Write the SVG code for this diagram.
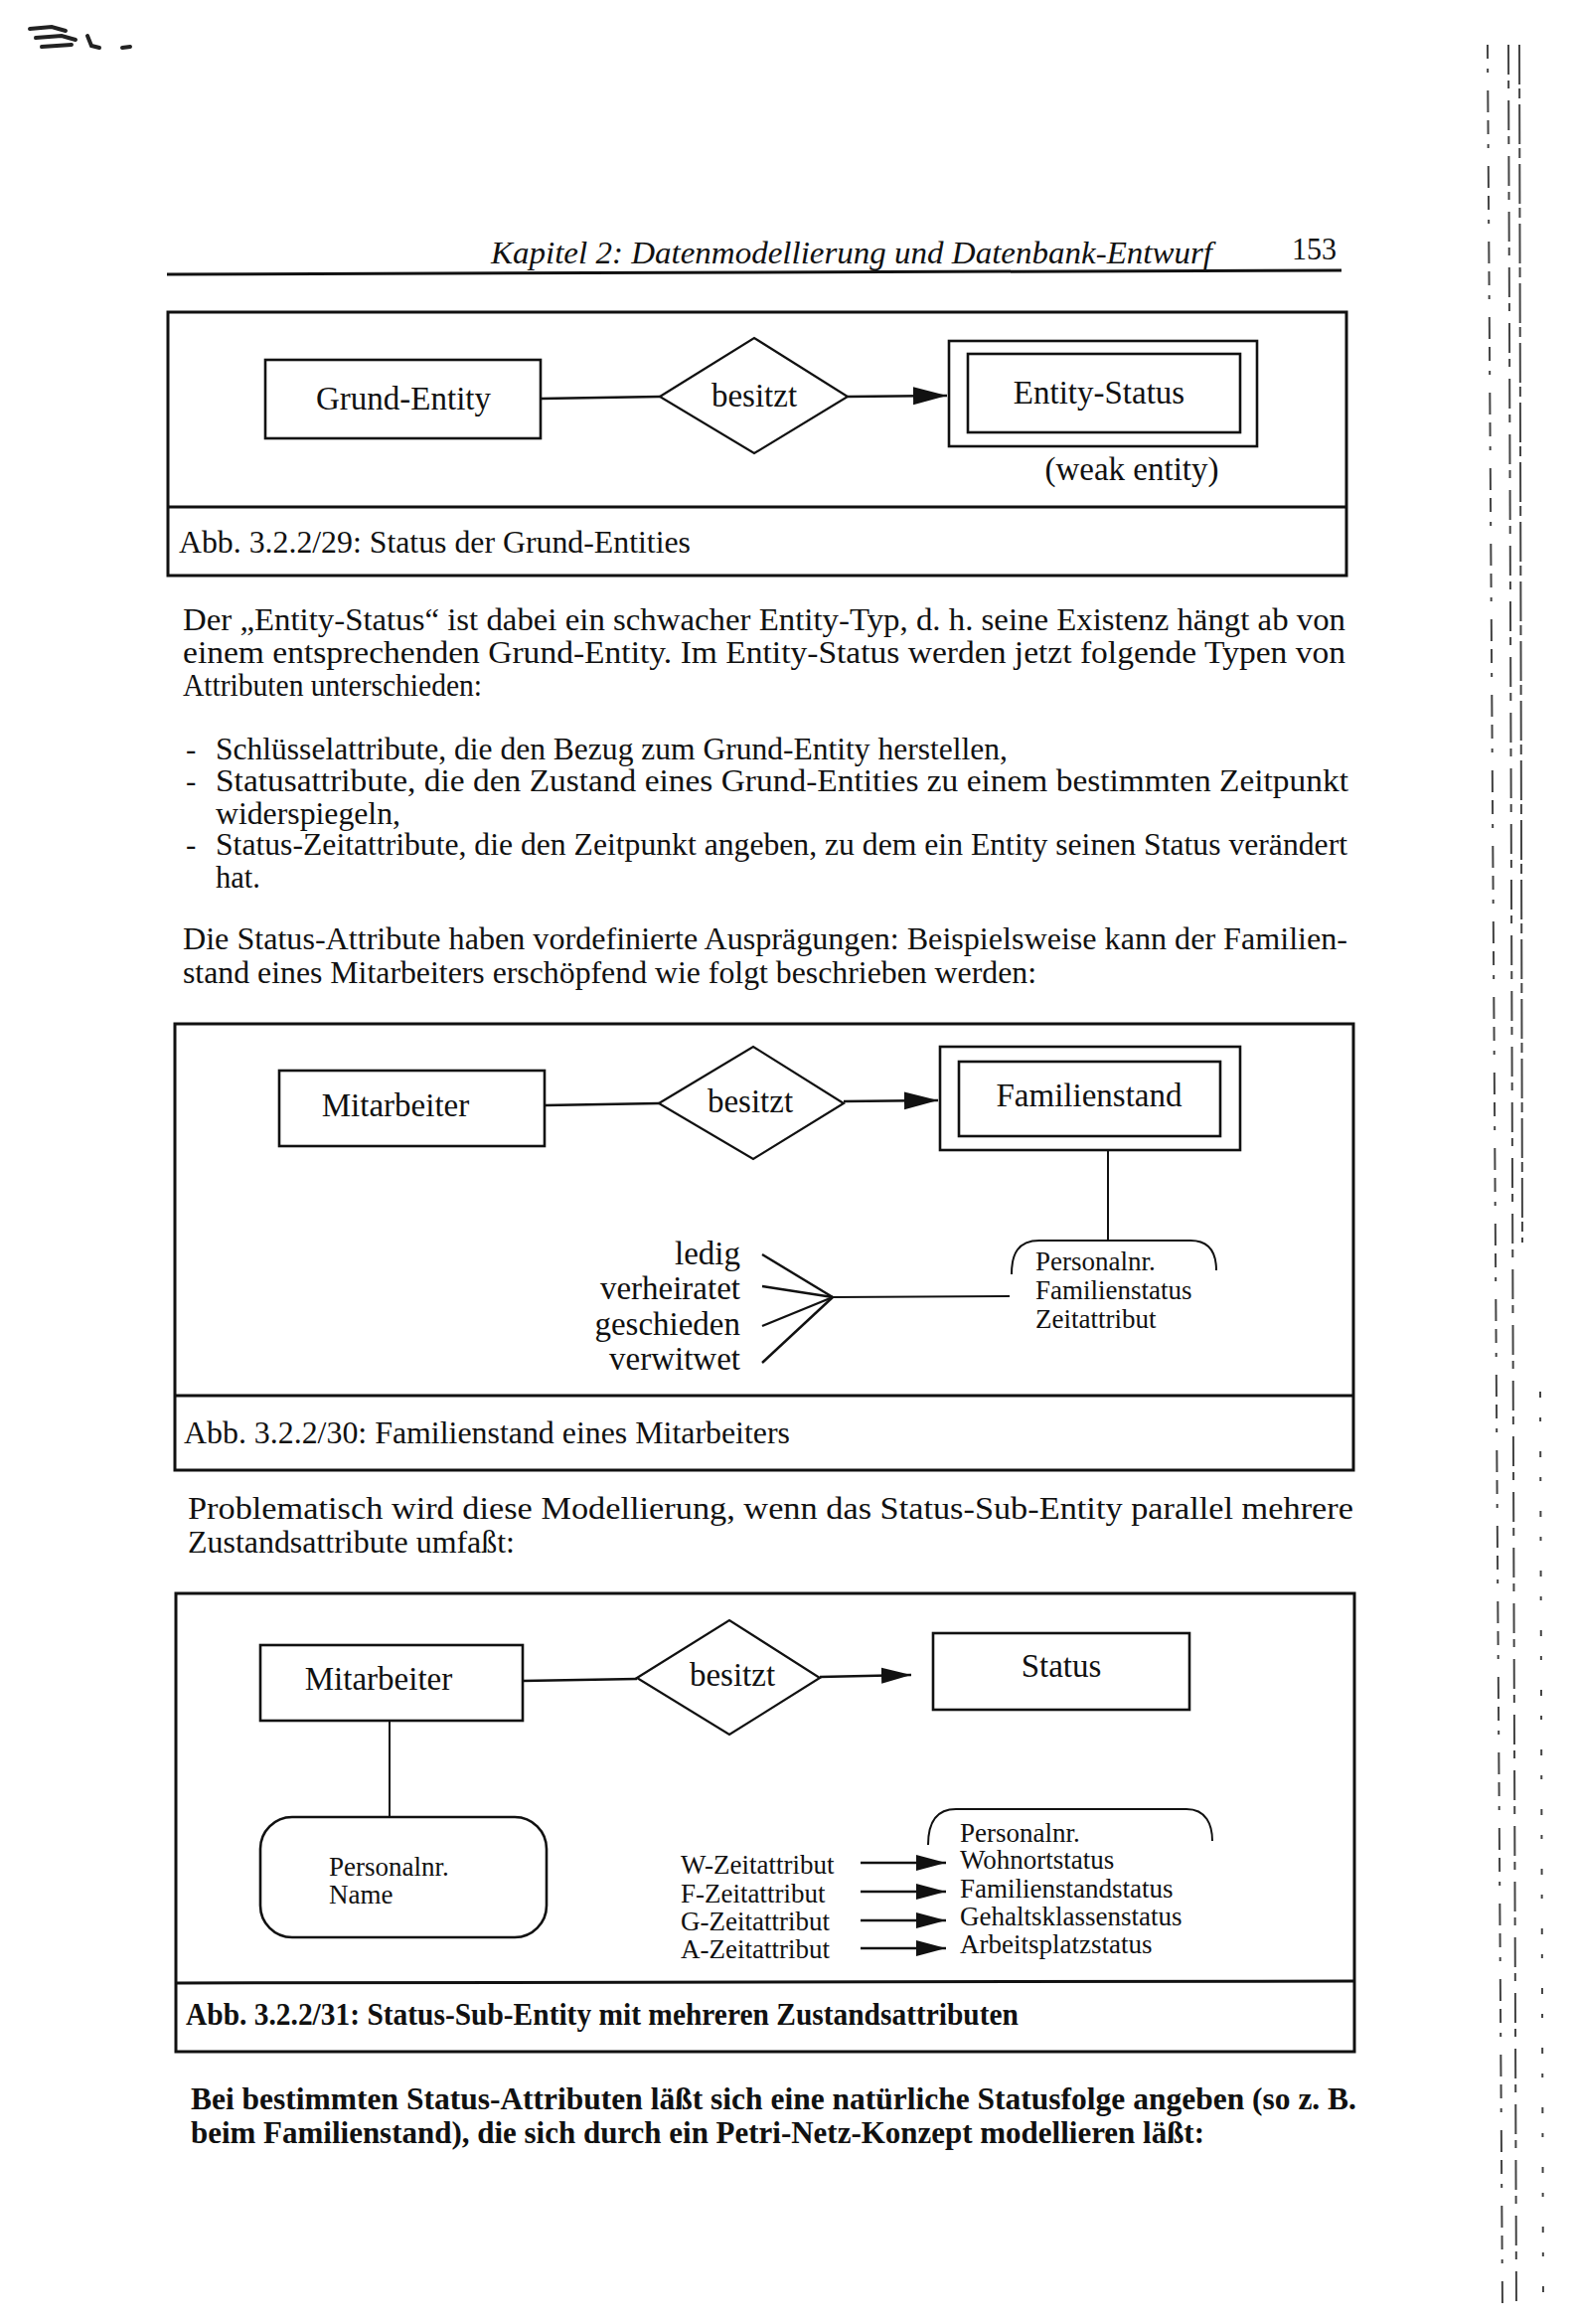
<svg xmlns="http://www.w3.org/2000/svg" width="1587" height="2338" viewBox="0 0 1587 2338">
<defs>
<style>
text{font-family:"Liberation Serif","Times New Roman",serif;fill:#111}
.body{font-size:31px}
.bold{font-weight:bold}
.node{font-size:33px}
.attr{font-size:27px}
.cap{font-size:31px}
.frame{fill:none;stroke:#111;stroke-width:3}
.box{fill:#fff;stroke:#111;stroke-width:2.6}
.dia{fill:#fff;stroke:#111;stroke-width:2.2}
.ln{fill:none;stroke:#111;stroke-width:2.4}
.thin{fill:none;stroke:#111;stroke-width:2}
.noise{fill:none;stroke:#444;stroke-width:2}
.smudge{fill:none;stroke:#222;stroke-width:4;stroke-linecap:round}
</style>
<marker id="ah" markerUnits="userSpaceOnUse" markerWidth="34" markerHeight="20" refX="34" refY="10" orient="auto">
<path d="M0,1 L34,10 L0,19 z" fill="#111"/>
</marker>
<marker id="ahs" markerUnits="userSpaceOnUse" markerWidth="30" markerHeight="18" refX="30" refY="9" orient="auto">
<path d="M0,1 L30,9 L0,17 z" fill="#111"/>
</marker>
</defs>
<rect width="1587" height="2338" fill="#fff"/>

<!-- scan artifacts -->
<g id="artifacts">
<path class="smudge" d="M30,29 L52,27 L66,31 M36,38 L62,36 L76,40 M42,47 L72,45"/>
<path class="smudge" d="M88,36 L92,46 L100,48"/>
<path class="smudge" d="M123,48 L131,47"/>
<path class="noise" d="M1497,45 L1512,2320" stroke-dasharray="14 10 4 18 22 8"/>
<path class="noise" d="M1518,45 L1526,2320" stroke-dasharray="30 6 8 12"/>
<path class="noise" d="M1529,45 L1532,1250" stroke-dasharray="40 4 10 6"/>
<path class="noise" d="M1550,1400 L1553,2320" stroke-dasharray="6 20 4 30"/>
</g>

<!-- header -->
<g id="header">
<text x="494" y="265" font-size="31" font-style="italic" textLength="726" lengthAdjust="spacingAndGlyphs">Kapitel 2: Datenmodellierung und Datenbank-Entwurf</text>
<text x="1300" y="261" font-size="31" textLength="45" lengthAdjust="spacingAndGlyphs">153</text>
<path d="M168,276 L1350,272" stroke="#111" stroke-width="3"/>
</g>

<!-- Figure 1 -->
<g id="fig1">
<rect class="frame" x="169" y="314" width="1186" height="265"/>
<path class="frame" d="M169,510 L1355,510"/>
<text class="cap" x="180" y="556" textLength="515" lengthAdjust="spacingAndGlyphs">Abb. 3.2.2/29:  Status der Grund-Entities</text>
</g>
<g id="grund-entity">
<rect class="box" x="267" y="362" width="277" height="79"/>
<text class="node" x="406" y="412" text-anchor="middle">Grund-Entity</text>
</g>
<g id="besitzt1">
<polygon class="dia" points="664,399 759,340 853,399 759,456"/>
<text class="node" x="759" y="409" text-anchor="middle">besitzt</text>
</g>
<g id="entity-status">
<rect class="box" x="955" y="343" width="310" height="106"/>
<rect class="box" x="974" y="356" width="274" height="79"/>
<text class="node" x="1106" y="406" text-anchor="middle">Entity-Status</text>
<text class="node" x="1139" y="483" text-anchor="middle">(weak entity)</text>
</g>

<!-- Paragraph 1 -->
<g id="para1">
<text class="body" x="184" y="634" textLength="1170" lengthAdjust="spacingAndGlyphs">Der „Entity-Status“ ist dabei ein schwacher Entity-Typ, d. h. seine Existenz hängt ab von</text>
<text class="body" x="184" y="667" textLength="1170" lengthAdjust="spacingAndGlyphs">einem entsprechenden Grund-Entity. Im Entity-Status werden jetzt folgende Typen von</text>
<text class="body" x="184" y="700" textLength="301" lengthAdjust="spacingAndGlyphs">Attributen unterschieden:</text>
<text class="body" x="187" y="764">-</text>
<text class="body" x="217" y="764" textLength="797" lengthAdjust="spacingAndGlyphs">Schlüsselattribute, die den Bezug zum Grund-Entity herstellen,</text>
<text class="body" x="187" y="796">-</text>
<text class="body" x="217" y="796" textLength="1140" lengthAdjust="spacingAndGlyphs">Statusattribute, die den Zustand eines Grund-Entities zu einem bestimmten Zeitpunkt</text>
<text class="body" x="217" y="829" textLength="186" lengthAdjust="spacingAndGlyphs">widerspiegeln,</text>
<text class="body" x="187" y="860">-</text>
<text class="body" x="217" y="860" textLength="1139" lengthAdjust="spacingAndGlyphs">Status-Zeitattribute, die den Zeitpunkt angeben, zu dem ein Entity seinen Status verändert</text>
<text class="body" x="217" y="893" textLength="45" lengthAdjust="spacingAndGlyphs">hat.</text>
</g>

<g id="para2">
<text class="body" x="184" y="955" textLength="1172" lengthAdjust="spacingAndGlyphs">Die Status-Attribute haben vordefinierte Ausprägungen: Beispielsweise kann der Familien-</text>
<text class="body" x="184" y="989" textLength="859" lengthAdjust="spacingAndGlyphs">stand eines Mitarbeiters erschöpfend wie folgt beschrieben werden:</text>
</g>

<!-- Figure 2 -->
<g id="fig2">
<rect class="frame" x="176" y="1030" width="1186" height="449"/>
<path class="frame" d="M176,1404 L1362,1404"/>
<text class="cap" x="185" y="1452" textLength="610" lengthAdjust="spacingAndGlyphs">Abb. 3.2.2/30:  Familienstand eines Mitarbeiters</text>
</g>
<g id="mitarbeiter2">
<rect class="box" x="281" y="1077" width="267" height="76"/>
<text class="node" x="398" y="1123" text-anchor="middle">Mitarbeiter</text>
</g>
<g id="besitzt2">
<polygon class="dia" points="663,1110 758,1053 849,1110 758,1166"/>
<text class="node" x="755" y="1119" text-anchor="middle">besitzt</text>
</g>
<g id="familienstand">
<rect class="box" x="946" y="1053" width="302" height="104"/>
<rect class="box" x="965" y="1068" width="263" height="75"/>
<text class="node" x="1096" y="1113" text-anchor="middle">Familienstand</text>
</g>
<g id="werte">
<text class="node" x="745" y="1272" text-anchor="end">ledig</text>
<text class="node" x="745" y="1307" text-anchor="end">verheiratet</text>
<text class="node" x="745" y="1343" text-anchor="end">geschieden</text>
<text class="node" x="745" y="1378" text-anchor="end">verwitwet</text>
</g>
<g id="attr2">
<path class="thin" d="M1018,1282 C1018,1262 1024,1248 1046,1248 L1198,1248 C1218,1248 1224,1262 1224,1278"/>
<text class="attr" x="1042" y="1278">Personalnr.</text>
<text class="attr" x="1042" y="1307">Familienstatus</text>
<text class="attr" x="1042" y="1336">Zeitattribut</text>
</g>

<!-- Paragraph 3 -->
<g id="para3">
<text class="body" x="189" y="1528" textLength="1173" lengthAdjust="spacingAndGlyphs">Problematisch wird diese Modellierung, wenn das Status-Sub-Entity parallel mehrere</text>
<text class="body" x="189" y="1562" textLength="329" lengthAdjust="spacingAndGlyphs">Zustandsattribute umfaßt:</text>
</g>

<!-- Figure 3 -->
<g id="fig3">
<rect class="frame" x="177" y="1603" width="1186" height="461"/>
<path class="frame" d="M177,1995 L1363,1993"/>
<text class="cap bold" x="187" y="2037" textLength="838" lengthAdjust="spacingAndGlyphs">Abb. 3.2.2/31: Status-Sub-Entity mit mehreren Zustandsattributen</text>
</g>
<g id="mitarbeiter3">
<rect class="box" x="262" y="1655" width="264" height="76"/>
<text class="node" x="381" y="1700" text-anchor="middle">Mitarbeiter</text>
</g>
<g id="besitzt3">
<polygon class="dia" points="641,1688 734,1630 825,1688 734,1745"/>
<text class="node" x="737" y="1696" text-anchor="middle">besitzt</text>
</g>
<g id="status">
<rect class="box" x="939" y="1643" width="258" height="77"/>
<text class="node" x="1068" y="1687" text-anchor="middle">Status</text>
</g>
<g id="mitarbeiter-attr">
<rect class="box" x="262" y="1828" width="288" height="121" rx="32" ry="32"/>
<text class="attr" x="331" y="1887">Personalnr.</text>
<text class="attr" x="331" y="1915">Name</text>
</g>
<g id="zeitattribute">
<text class="attr" x="685" y="1885">W-Zeitattribut</text>
<text class="attr" x="685" y="1914">F-Zeitattribut</text>
<text class="attr" x="685" y="1942">G-Zeitattribut</text>
<text class="attr" x="685" y="1970">A-Zeitattribut</text>
</g>
<g id="status-attr">
<path class="thin" d="M934,1856 C934,1836 940,1820 962,1820 L1194,1820 C1214,1820 1220,1836 1220,1852"/>
<text class="attr" x="966" y="1853">Personalnr.</text>
<text class="attr" x="966" y="1880">Wohnortstatus</text>
<text class="attr" x="966" y="1909">Familienstandstatus</text>
<text class="attr" x="966" y="1937">Gehaltsklassenstatus</text>
<text class="attr" x="966" y="1965">Arbeitsplatzstatus</text>
</g>

<!-- Paragraph 4 -->
<g id="para4">
<text class="body bold" x="192" y="2122" textLength="1173" lengthAdjust="spacingAndGlyphs">Bei bestimmten Status-Attributen läßt sich eine natürliche Statusfolge angeben (so z. B.</text>
<text class="body bold" x="192" y="2156" textLength="1020" lengthAdjust="spacingAndGlyphs">beim Familienstand), die sich durch ein Petri-Netz-Konzept modellieren läßt:</text>
</g>

<!-- connectors -->
<g id="connectors">
<path class="ln" d="M544,401 L664,399"/>
<path class="ln" d="M853,399 L953,398" marker-end="url(#ah)"/>
<path class="ln" d="M548,1112 L663,1110"/>
<path class="ln" d="M849,1108 L944,1107" marker-end="url(#ah)"/>
<path class="thin" d="M1115,1157 L1115,1247"/>
<path class="ln" d="M767,1262 L838,1305"/>
<path class="ln" d="M767,1294 L838,1305"/>
<path class="ln" d="M767,1334 L838,1305"/>
<path class="ln" d="M767,1371 L838,1305"/>
<path class="thin" d="M838,1305 L1016,1304"/>
<path class="ln" d="M526,1691 L641,1689"/>
<path class="ln" d="M825,1687 L917,1685" marker-end="url(#ahs)"/>
<path class="thin" d="M392,1731 L392,1828"/>
<path class="ln" d="M866,1874 L952,1874" marker-end="url(#ahs)"/>
<path class="ln" d="M866,1903 L952,1903" marker-end="url(#ahs)"/>
<path class="ln" d="M866,1932 L952,1932" marker-end="url(#ahs)"/>
<path class="ln" d="M866,1960 L952,1960" marker-end="url(#ahs)"/>
</g>
</svg>
